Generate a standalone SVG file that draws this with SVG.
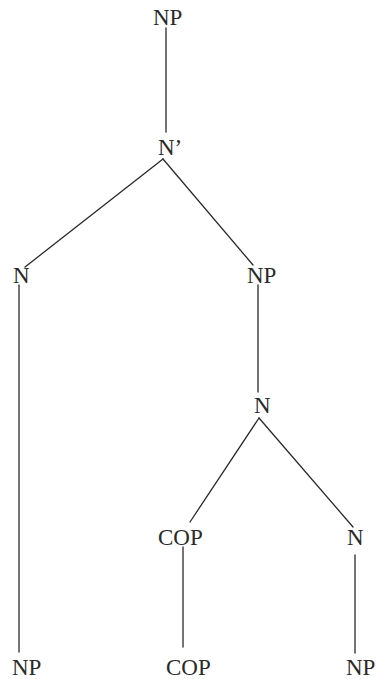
<svg xmlns="http://www.w3.org/2000/svg" width="378" height="679" viewBox="0 0 378 679">
<style>
.t{font-family:"Liberation Serif","Times New Roman",serif;font-size:23px;fill:#2a2a2a}
.e{stroke:#2a2a2a;stroke-width:1.3;fill:none;stroke-linecap:round}
</style>
<rect width="378" height="679" fill="#fff"/>
<g id="connectors">
<line class="e" x1="166" y1="28" x2="166" y2="132"/>
<line class="e" x1="163" y1="159" x2="25" y2="267"/>
<line class="e" x1="163" y1="159" x2="253" y2="265"/>
<line class="e" x1="19" y1="285" x2="19" y2="652"/>
<line class="e" x1="258" y1="285" x2="258" y2="392"/>
<line class="e" x1="259" y1="418" x2="190" y2="522"/>
<line class="e" x1="259" y1="418" x2="353" y2="527"/>
<line class="e" x1="183" y1="547" x2="183" y2="647"/>
<line class="e" x1="355" y1="555" x2="355" y2="653"/>
</g>
<g id="np-root"><text class="t" x="153" y="25">NP</text></g>
<g id="nbar"><text class="t" x="158" y="155">N’</text></g>
<g id="n-left"><text class="t" x="13" y="283">N</text></g>
<g id="np-mid"><text class="t" x="247" y="283">NP</text></g>
<g id="n-mid"><text class="t" x="254" y="413">N</text></g>
<g id="cop-1"><text class="t" x="158" y="545">COP</text></g>
<g id="n-right"><text class="t" x="347" y="545">N</text></g>
<g id="np-bl"><text class="t" x="12" y="675">NP</text></g>
<g id="cop-2"><text class="t" x="166" y="675">COP</text></g>
<g id="np-br"><text class="t" x="346" y="675">NP</text></g>
</svg>
